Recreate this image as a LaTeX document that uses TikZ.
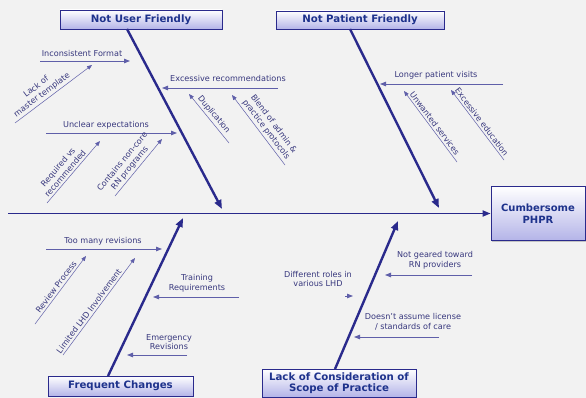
\documentclass[tikz,border=0pt]{standalone}
\usepackage{fontspec}
\setmainfont{DejaVu Sans}
\usetikzlibrary{arrows.meta,shadows}
\definecolor{bg}{RGB}{242,242,242}
\definecolor{navy}{RGB}{42,42,140}
\definecolor{lbltxt}{RGB}{55,55,125}
\definecolor{boxtxt}{RGB}{30,50,140}
\definecolor{boxbot}{RGB}{180,180,232}
\begin{document}
\begin{tikzpicture}[x=1pt,y=-1pt,
 catbox/.style={draw=navy, line width=0.8pt, top color=white, bottom color=boxbot,
   font=\fontsize{10.2}{11.5}\selectfont\bfseries, text=boxtxt, inner sep=0pt, align=center,
   drop shadow={shadow xshift=1.2pt,shadow yshift=-1.2pt,opacity=0.4}},
 spine/.style={draw=navy, line width=1.8pt, -{Triangle[length=8pt,width=6pt]}},
 bone/.style={draw=navy, line width=2.4pt, -{Triangle[length=9pt,width=7pt]}},
 sub/.style={draw=navy!75, line width=0.5pt, -{Triangle[length=5pt,width=4pt]}},
 hsub/.style={draw=navy!75, line width=0.9pt, -{Triangle[length=6pt,width=4.5pt]}},
 lbl/.style={font=\fontsize{8.1}{9.6}\selectfont, text=lbltxt, inner sep=1pt, align=center},
 slbl/.style={lbl, sloped, above, inner sep=2pt},
]
\fill[bg] (0,0) rectangle (586,398);
\useasboundingbox (0,0) rectangle (586,398);

% category boxes
\node[catbox, minimum width=162pt, minimum height=19pt] (nuf) at (141,19.5) {Not User Friendly};
\node[catbox, minimum width=168pt, minimum height=18pt] (npf) at (360,20) {Not Patient Friendly};
\node[catbox, minimum width=94pt, minimum height=54pt, font=\fontsize{10}{12.5}\selectfont\bfseries] (head) at (538,213.5) {Cumbersome\\PHPR};
\node[catbox, minimum width=145pt, minimum height=20pt] (fc) at (120.5,386) {Frequent Changes};
\node[catbox, minimum width=154pt, minimum height=28pt] (lack) at (339,383) {Lack of Consideration of\\Scope of Practice};

% spine
\coordinate (spS) at (8,213.5);
\draw[spine] (spS) -- (head.west);

% main bones
\coordinate (b1s) at (127,29);  \coordinate (b1e) at (222,209);
\coordinate (b2s) at (350,29);  \coordinate (b2e) at (439,208);
\coordinate (b3s) at (108,376); \coordinate (b3e) at (183,218);
\coordinate (b4s) at (335,369); \coordinate (b4e) at (398,221);
\draw[bone] (b1s) -- (b1e);
\draw[bone] (b2s) -- (b2e);
\draw[bone] (b3s) -- (b3e);
\draw[bone] (b4s) -- (b4e);

% horizontal sub-causes
\coordinate (ifS) at (40,61);   \coordinate (ifE) at (130,61);
\draw[hsub] (ifS) -- (ifE);
\node[lbl] (ifL) at (82,53) {Inconsistent Format};

\coordinate (erS) at (278,88);  \coordinate (erE) at (162,88);
\draw[hsub] (erS) -- (erE);
\node[lbl] (erL) at (228,78) {Excessive recommendations};

\coordinate (ueS) at (46,133);  \coordinate (ueE) at (177,133);
\draw[hsub] (ueS) -- (ueE);
\node[lbl] (ueL) at (106,125) {Unclear expectations};

\coordinate (lpS) at (503,84);  \coordinate (lpE) at (380,84);
\draw[hsub] (lpS) -- (lpE);
\node[lbl] (lpL) at (436,75) {Longer patient visits};

\coordinate (tmS) at (46,249);  \coordinate (tmE) at (162,249);
\draw[hsub] (tmS) -- (tmE);
\node[lbl] (tmL) at (103,241) {Too many revisions};

\coordinate (trS) at (239,297); \coordinate (trE) at (153,297);
\draw[hsub] (trS) -- (trE);
\node[lbl] (trL) at (197,283) {Training\\Requirements};

\coordinate (emS) at (187,355); \coordinate (emE) at (127,355);
\draw[hsub] (emS) -- (emE);
\node[lbl] (emL) at (169,342) {Emergency\\Revisions};

\coordinate (ngS) at (472,275); \coordinate (ngE) at (385,275);
\draw[hsub] (ngS) -- (ngE);
\node[lbl] (ngL) at (435,260) {Not geared toward\\RN providers};

\coordinate (drS) at (345,296); \coordinate (drE) at (353,296);
\draw[hsub] (drS) -- (drE);
\node[lbl] (drL) at (318,279) {Different roles in\\various LHD};

\coordinate (daS) at (439,337); \coordinate (daE) at (354,337);
\draw[hsub] (daS) -- (daE);
\node[lbl] (daL) at (413,322) {Doesn't assume license\\/ standards of care};

% diagonal sub-causes
\coordinate (lmS) at (15,123);  \coordinate (lmE) at (92,65);
\draw[sub] (lmS) -- node[slbl, pos=0.4] (lmL) {Lack of\\master template} (lmE);

\coordinate (duS) at (229,143); \coordinate (duE) at (189,94);
\draw[sub] (duS) -- node[slbl, pos=0.5] (duL) {Duplication} (duE);

\coordinate (blS) at (285,165); \coordinate (blE) at (232,95);
\draw[sub] (blS) -- node[slbl, pos=0.45] (blL) {Blend of admin \&\\practice protocols} (blE);

\coordinate (rqS) at (47,203);  \coordinate (rqE) at (100,141);
\draw[sub] (rqS) -- node[slbl, pos=0.42] (rqL) {Required vs\\recommended} (rqE);

\coordinate (coS) at (115,196); \coordinate (coE) at (162,139);
\draw[sub] (coS) -- node[slbl, pos=0.42] (coL) {Contains non-core\\RN programs} (coE);

\coordinate (uwS) at (457,162); \coordinate (uwE) at (404,91);
\draw[sub] (uwS) -- node[slbl, pos=0.5] (uwL) {Unwanted services} (uwE);

\coordinate (eeS) at (504,160); \coordinate (eeE) at (451,90);
\draw[sub] (eeS) -- node[slbl, pos=0.5] (eeL) {Excessive education} (eeE);

\coordinate (rpS) at (35,324);  \coordinate (rpE) at (86,256);
\draw[sub] (rpS) -- node[slbl, pos=0.5] (rpL) {Review Process} (rpE);

\coordinate (liS) at (63,355);  \coordinate (liE) at (135,258);
\draw[sub] (liS) -- node[slbl, pos=0.42] (liL) {Limited LHD Involvement} (liE);
\end{tikzpicture}
\end{document}
